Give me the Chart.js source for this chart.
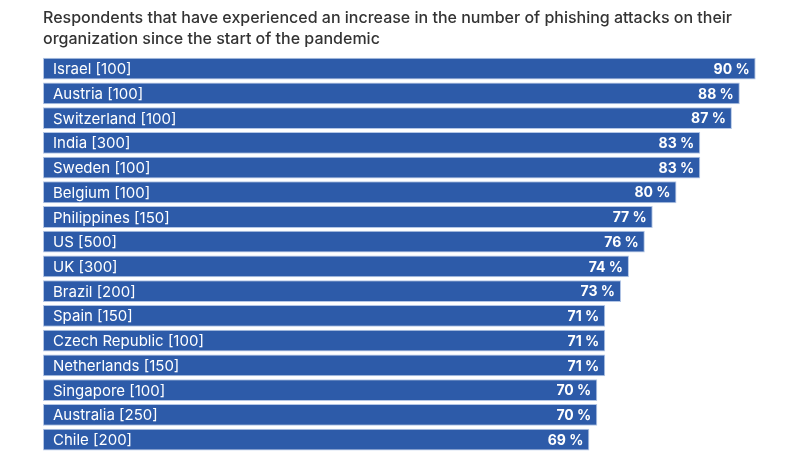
<!DOCTYPE html>
<html>
<head>
<meta charset="utf-8">
<script src="https://cdn.jsdelivr.net/npm/chart.js@4"></script>
<style>
  html, body { margin: 0; padding: 0; background: #fff; }
  #wrap { width: 800px; height: 452px; }
</style>
</head>
<body>
<div id="wrap"><canvas id="chart" width="800" height="452"></canvas></div>
<script>
const countries = ['Israel', 'Austria', 'Switzerland', 'India', 'Sweden', 'Belgium', 'Philippines', 'US',
  'UK', 'Brazil', 'Spain', 'Czech Republic', 'Netherlands', 'Singapore', 'Australia', 'Chile'];
const sampleSizes = [100, 100, 100, 300, 100, 100, 150, 500, 300, 200, 150, 100, 150, 100, 250, 200];
const percents = [90, 88, 87, 83, 83, 80, 77, 76, 74, 73, 71, 71, 71, 70, 70, 69];
const titleLines = ['Respondents that have experienced an increase in the number of phishing attacks on their',
  'organization since the start of the pandemic'];

const labels = countries.map((c, i) => c + ' [' + sampleSizes[i] + ']');

// draws country names at the left of each bar and the value at its end
const barText = {
  id: 'barText',
  afterDatasetsDraw(chart) {
    const ctx = chart.ctx;
    const meta = chart.getDatasetMeta(0);
    ctx.save();
    ctx.fillStyle = '#ffffff';
    ctx.textBaseline = 'middle';
    meta.data.forEach((bar, i) => {
      ctx.font = '15px Inter, Roboto, sans-serif';
      ctx.textAlign = 'left';
      ctx.fillText(labels[i], bar.base + 10, bar.y + 1);
      ctx.font = 'bold 14px Inter, Roboto, sans-serif';
      ctx.textAlign = 'right';
      ctx.fillText(percents[i] + ' %', bar.x - 6, bar.y + 1);
    });
    ctx.restore();
  }
};

new Chart(document.getElementById('chart'), {
  type: 'bar',
  data: {
    labels: labels,
    datasets: [{
      data: percents,
      backgroundColor: '#2d5ba9',
      borderColor: '#b3c6e6',
      borderWidth: 1,
      borderSkipped: false,
      categoryPercentage: 0.88,
      barPercentage: 1.0
    }]
  },
  options: {
    indexAxis: 'y',
    responsive: false,
    animation: false,
    layout: { padding: { left: 43, right: 0, top: 0, bottom: 0 } },
    scales: {
      x: { display: false, min: 0, max: 95.6 },
      y: { display: false }
    },
    plugins: {
      legend: { display: false },
      tooltip: { enabled: false },
      title: {
        display: true,
        text: titleLines,
        align: 'start',
        color: '#333333',
        font: { family: 'Inter, Roboto, sans-serif', size: 16, weight: '500', lineHeight: 1.35 },
        padding: { top: 7, bottom: 6 }
      }
    }
  },
  plugins: [barText]
});
</script>
</body>
</html>
